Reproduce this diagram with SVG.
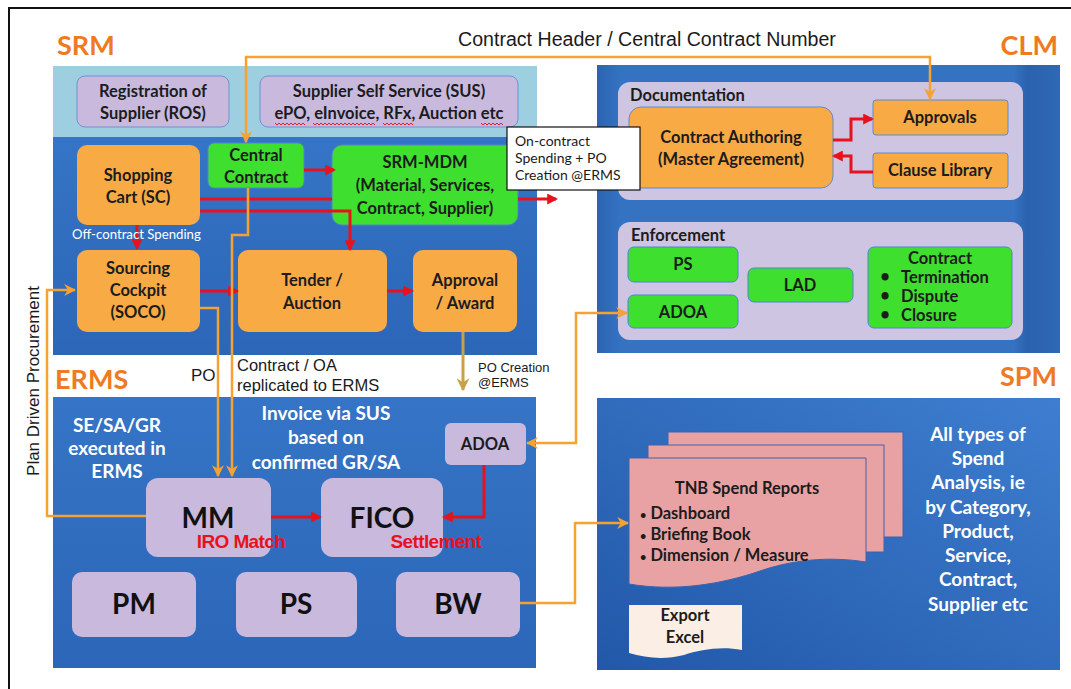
<svg xmlns="http://www.w3.org/2000/svg" width="1071" height="689" viewBox="0 0 1071 689">
  <style>
    .lab { font-family: Lato, "Liberation Sans", sans-serif; font-weight: 700; font-size: 27px; fill: #EE7A22; }
    .bx { font-family: Lato, "Liberation Sans", sans-serif; font-weight: 700; font-size: 16.5px; fill: #1c1c1c; text-anchor: middle; }
    .bl { text-anchor: start; }
    .big { font-family: Lato, "Liberation Sans", sans-serif; font-weight: 700; font-size: 28px; fill: #111; text-anchor: middle; }
    .wht { font-family: Lato, "Liberation Sans", sans-serif; font-weight: 700; font-size: 19px; fill: #ffffff; text-anchor: middle; }
    .arial { font-family: "Liberation Sans", Arial, sans-serif; fill: #1a1a1a; }
    .redtxt { font-family: "Liberation Sans", Arial, sans-serif; font-weight: 700; font-size: 19px; fill: #E8121C; text-anchor: middle; letter-spacing: -0.6px; }
    .org { fill: #F8AA45; }
    .grn { fill: #3EDF2E; stroke: #4C86CF; stroke-width: 1; }
    .lav { fill: #C8B9DD; }
    .pan { fill: #CEC5E2; }
    .red { fill: none; stroke: #E8121C; stroke-width: 3; }
    .ora { fill: none; stroke: #F5A233; stroke-width: 2.5; }
    .gold { fill: none; stroke: #C9A14C; stroke-width: 3; }
    .sheet { fill: #E8A2A4; stroke: #3E62B0; stroke-width: 1; }
    .squig { fill: none; stroke: #E02020; stroke-width: 1; }
  </style>
  <defs>
    <linearGradient id="gBlue" x1="0" y1="0" x2="0" y2="1">
      <stop offset="0" stop-color="#3574C6"/>
      <stop offset="1" stop-color="#2C66B8"/>
    </linearGradient>
    <linearGradient id="gClm" x1="0" y1="0" x2="1" y2="0">
      <stop offset="0" stop-color="#2B64B0"/>
      <stop offset="0.05" stop-color="#3572C2"/>
      <stop offset="0.9" stop-color="#3572C2"/>
      <stop offset="0.93" stop-color="#2A62AE"/>
      <stop offset="1" stop-color="#2F68B4"/>
    </linearGradient>
    <linearGradient id="gSpm" x1="1" y1="0" x2="0" y2="1">
      <stop offset="0" stop-color="#3E7ED0"/>
      <stop offset="1" stop-color="#2258A8"/>
    </linearGradient>
    <marker id="aRed" viewBox="0 0 10 10" refX="8" refY="5" markerWidth="11" markerHeight="11" markerUnits="userSpaceOnUse" orient="auto">
      <path d="M0,0 L10,5 L0,10 z" fill="#E8121C"/>
    </marker>
    <marker id="aOra" viewBox="0 0 10 10" refX="9" refY="5" markerWidth="12" markerHeight="12" markerUnits="userSpaceOnUse" orient="auto-start-reverse">
      <path d="M0,0 L10,5 L0,10 L3,5 z" fill="#F5A233"/>
    </marker>
    <marker id="aGold" viewBox="0 0 10 10" refX="9" refY="5" markerWidth="13" markerHeight="13" markerUnits="userSpaceOnUse" orient="auto">
      <path d="M0,0 L10,5 L0,10 L3,5 z" fill="#C9A14C"/>
    </marker>
  </defs>

  <rect x="0" y="0" width="1071" height="689" fill="#ffffff"/>
  <!-- frame -->
  <path d="M9,689 L9,8 L1071,8" fill="none" stroke="#111" stroke-width="2"/>

  <!-- SRM area -->
  <g id="srm">
    <text class="lab" x="57" y="55">SRM</text>
    <rect x="53" y="66" width="484" height="72" fill="#9DCFE0"/>
    <rect x="53" y="137" width="484" height="218" fill="url(#gBlue)"/>
  </g>
  <g id="ros">
    <rect x="77" y="76" width="152" height="51" rx="8" class="lav" stroke="#6F92D2" stroke-width="1"/>
    <text class="bx" x="153" y="97">Registration of</text>
    <text class="bx" x="153" y="119">Supplier (ROS)</text>
  </g>
  <g id="sus">
    <rect x="260" y="76" width="258" height="51" rx="8" class="lav" stroke="#6F92D2" stroke-width="1"/>
    <text class="bx" x="389" y="97">Supplier Self Service (SUS)</text>
    <text class="bx" x="389" y="119">ePO, eInvoice, RFx, Auction etc</text>
    <!-- spell-check squiggles -->
    <path class="squig" d="M275,123 l2,2 l2,-2 l2,2 l2,-2 l2,2 l2,-2 l2,2 l2,-2 l2,2 l2,-2 l2,2 l2,-2 l2,2 l2,-2 l2,2"/>
    <path class="squig" d="M313,123 l2,2 l2,-2 l2,2 l2,-2 l2,2 l2,-2 l2,2 l2,-2 l2,2 l2,-2 l2,2 l2,-2 l2,2 l2,-2 l2,2 l2,-2 l2,2 l2,-2 l2,2 l2,-2 l2,2 l2,-2 l2,2 l2,-2 l2,2 l2,-2 l2,2 l2,-2 l2,2 l2,-2 l2,2"/>
    <path class="squig" d="M383,123 l2,2 l2,-2 l2,2 l2,-2 l2,2 l2,-2 l2,2 l2,-2 l2,2 l2,-2 l2,2 l2,-2 l2,2 l2,-2 l2,2"/>
    <path class="squig" d="M481,123 l2,2 l2,-2 l2,2 l2,-2 l2,2 l2,-2 l2,2 l2,-2 l2,2 l2,-2 l2,2"/>
  </g>
  <g id="shopping-cart">
    <rect x="77" y="145" width="123" height="80" rx="10" class="org"/>
    <text class="bx" x="138" y="181">Shopping</text>
    <text class="bx" x="138" y="203">Cart (SC)</text>
  </g>
  <g id="central-contract">
    <rect x="208" y="143" width="96" height="45" rx="6" class="grn"/>
    <text class="bx" x="256" y="161">Central</text>
    <text class="bx" x="256" y="183">Contract</text>
  </g>
  <g id="srm-mdm">
    <rect x="332" y="145" width="186" height="80" rx="10" class="grn" stroke="none"/>
    <text class="bx" x="425" y="168">SRM-MDM</text>
    <text class="bx" x="425" y="191">(Material, Services,</text>
    <text class="bx" x="425" y="214">Contract, Supplier)</text>
  </g>
  <g id="sourcing-cockpit">
    <rect x="77" y="250" width="123" height="82" rx="10" class="org"/>
    <text class="bx" x="138" y="274">Sourcing</text>
    <text class="bx" x="138" y="296">Cockpit</text>
    <text class="bx" x="138" y="318">(SOCO)</text>
  </g>
  <g id="tender">
    <rect x="238" y="250" width="149" height="82" rx="10" class="org"/>
    <text class="bx" x="312" y="286">Tender /</text>
    <text class="bx" x="312" y="309">Auction</text>
  </g>
  <g id="approval">
    <rect x="413" y="250" width="104" height="82" rx="10" class="org"/>
    <text class="bx" x="465" y="286">Approval</text>
    <text class="bx" x="465" y="309">/ Award</text>
  </g>

  <!-- CLM area -->
  <g id="clm">
    <text class="lab" x="1058" y="55" text-anchor="end">CLM</text>
    <rect x="597" y="65" width="463" height="288" fill="url(#gClm)"/>
    <rect x="618" y="82" width="405" height="118" rx="12" class="pan"/>
    <text class="bx bl" x="630" y="101" font-size="15.5">Documentation</text>
    <rect x="618" y="222" width="405" height="118" rx="12" class="pan"/>
    <text class="bx bl" x="631" y="241" font-size="15.5">Enforcement</text>
  </g>
  <g id="contract-authoring">
    <rect x="629" y="107" width="204" height="81" rx="12" class="org" stroke="#5B8BD0" stroke-width="1"/>
    <text class="bx" x="731" y="143" font-size="17">Contract Authoring</text>
    <text class="bx" x="731" y="165" font-size="17">(Master Agreement)</text>
  </g>
  <g id="approvals">
    <rect x="873" y="100" width="135" height="35" rx="3" class="org" stroke="#5B8BD0" stroke-width="1"/>
    <text class="bx" x="940" y="123">Approvals</text>
  </g>
  <g id="clause-library">
    <rect x="873" y="153" width="135" height="35" rx="3" class="org" stroke="#5B8BD0" stroke-width="1"/>
    <text class="bx" x="940" y="176">Clause Library</text>
  </g>
  <g id="clm-ps">
    <rect x="628" y="247" width="110" height="35" rx="6" class="grn"/>
    <text class="bx" x="683" y="270">PS</text>
  </g>
  <g id="clm-adoa">
    <rect x="628" y="295" width="110" height="33" rx="6" class="grn"/>
    <text class="bx" x="683" y="318">ADOA</text>
  </g>
  <g id="lad">
    <rect x="748" y="268" width="105" height="34" rx="6" class="grn"/>
    <text class="bx" x="800" y="291">LAD</text>
  </g>
  <g id="contract-status">
    <rect x="868" y="247" width="144" height="81" rx="6" class="grn"/>
    <text class="bx" x="940" y="264">Contract</text>
    <text class="bx" x="885" y="282" font-size="12">•</text>
    <text class="bx bl" x="901" y="283">Termination</text>
    <text class="bx" x="885" y="301" font-size="12">•</text>
    <text class="bx bl" x="901" y="302">Dispute</text>
    <text class="bx" x="885" y="320" font-size="12">•</text>
    <text class="bx bl" x="901" y="321">Closure</text>
  </g>

  <g id="on-contract">
    <rect x="507" y="127" width="133" height="63" fill="#ffffff" stroke="#111" stroke-width="1.2"/>
    <text x="515" y="146" font-family="Lato, 'Liberation Sans', sans-serif" font-size="14" fill="#1a1a1a">On-contract</text>
    <text x="515" y="163" font-family="Lato, 'Liberation Sans', sans-serif" font-size="14" fill="#1a1a1a">Spending + PO</text>
    <text x="515" y="180" font-family="Lato, 'Liberation Sans', sans-serif" font-size="14" fill="#1a1a1a">Creation @ERMS</text>
  </g>

  <!-- ERMS area -->
  <g id="erms">
    <text class="lab" x="55" y="389">ERMS</text>
    <rect x="53" y="397" width="483" height="271" fill="url(#gBlue)"/>
    <text class="wht" x="117" y="432">SE/SA/GR</text>
    <text class="wht" x="117" y="455">executed in</text>
    <text class="wht" x="117" y="478">ERMS</text>
    <text class="wht" x="326" y="420">Invoice via SUS</text>
    <text class="wht" x="326" y="444">based on</text>
    <text class="wht" x="326" y="469">confirmed GR/SA</text>
  </g>
  <g id="erms-adoa">
    <rect x="445" y="423" width="81" height="42" rx="6" class="lav"/>
    <text class="bx" x="485" y="450" font-size="15">ADOA</text>
  </g>
  <g id="mm">
    <rect x="146" y="478" width="125" height="79" rx="12" class="lav"/>
    <text class="big" x="208" y="528" font-size="30">MM</text>
    <text class="redtxt" x="241" y="548">IRO Match</text>
  </g>
  <g id="fico">
    <rect x="321" y="478" width="122" height="79" rx="12" class="lav"/>
    <text class="big" x="382" y="528" font-size="30">FICO</text>
    <text class="redtxt" x="436" y="548">Settlement</text>
  </g>
  <g id="pm">
    <rect x="72" y="572" width="124" height="65" rx="10" class="lav"/>
    <text class="big" x="134" y="614">PM</text>
  </g>
  <g id="ps">
    <rect x="236" y="572" width="121" height="65" rx="10" class="lav"/>
    <text class="big" x="296" y="614">PS</text>
  </g>
  <g id="bw">
    <rect x="396" y="572" width="124" height="65" rx="10" class="lav"/>
    <text class="big" x="458" y="614">BW</text>
  </g>

  <!-- SPM area -->
  <g id="spm">
    <text class="lab" x="1057" y="386" text-anchor="end">SPM</text>
    <rect x="597" y="398" width="463" height="272" fill="url(#gSpm)"/>
    <text class="wht" x="978" y="441">All types of</text>
    <text class="wht" x="978" y="465">Spend</text>
    <text class="wht" x="978" y="489">Analysis, ie</text>
    <text class="wht" x="978" y="514">by Category,</text>
    <text class="wht" x="978" y="538">Product,</text>
    <text class="wht" x="978" y="562">Service,</text>
    <text class="wht" x="978" y="586">Contract,</text>
    <text class="wht" x="978" y="611">Supplier etc</text>
  </g>
  <g id="spend-reports">
    <rect x="668" y="432" width="235" height="105" class="sheet"/>
    <rect x="648" y="445" width="236" height="107" class="sheet"/>
    <path class="sheet" d="M629,458 L866,458 L866,562 C828,556 792,560 760,571 C722,584 676,592 629,584 Z"/>
    <text class="bx" x="747" y="494" font-size="16">TNB Spend Reports</text>
    <text class="bx bl" x="640" y="519" font-weight="400" font-size="15"><tspan font-size="11">•</tspan> Dashboard</text>
    <text class="bx bl" x="640" y="540" font-weight="400" font-size="15"><tspan font-size="11">•</tspan> Briefing Book</text>
    <text class="bx bl" x="640" y="561" font-weight="400" font-size="15"><tspan font-size="11">•</tspan> Dimension / Measure</text>
  </g>
  <g id="export-excel">
    <path d="M629,605 L742,605 L742,650 C720,646 700,650 684,655 C664,660 646,658 629,653 Z" fill="#FBEEE4"/>
    <text class="bx" x="685" y="621" font-size="15.5">Export</text>
    <text class="bx" x="685" y="643" font-size="15.5">Excel</text>
  </g>

  <!-- connectors -->
  <g id="connectors">
    <path class="red" d="M304,170 L334,170" marker-end="url(#aRed)"/>
    <path class="red" d="M200,199 L332,199"/>
    <path class="red" d="M200,211 L350,211 L350,249" marker-end="url(#aRed)"/>
    <path class="red" d="M518,199 L556,199" marker-end="url(#aRed)"/>
    <path class="red" d="M137,225 L137,248" stroke-width="2.5" marker-end="url(#aRed)"/>
    <path class="red" d="M200,291 L237,291" marker-end="url(#aRed)"/>
    <path class="red" d="M387,291 L412,291" marker-end="url(#aRed)"/>
    <path class="red" d="M833,140 L851,140 L851,119 L872,119" marker-end="url(#aRed)"/>
    <path class="red" d="M873,172 L851,172 L851,156 L834,156" marker-end="url(#aRed)"/>
    <path class="red" d="M271,517 L320,517" marker-end="url(#aRed)"/>
    <path class="red" d="M484,465 L484,517 L444,517" marker-end="url(#aRed)"/>

    <path class="ora" d="M246,142 L246,57 L930,57 L930,99" marker-start="url(#aOra)" marker-end="url(#aOra)"/>
    <path class="ora" d="M200,308 L218,308 L218,476" marker-end="url(#aOra)"/>
    <path class="ora" d="M248,188 L248,235 L232,235 L232,476" marker-end="url(#aOra)"/>
    <path class="ora" d="M146,516 L47,516 L47,290 L75,290" stroke-width="2" marker-end="url(#aOra)"/>
    <path class="ora" d="M527,443 L576,443 L576,313 L627,313" marker-start="url(#aOra)" marker-end="url(#aOra)"/>
    <path class="ora" d="M520,603 L575,603 L575,523 L628,523" marker-end="url(#aOra)"/>
    <path class="gold" d="M463,332 L463,390" marker-end="url(#aGold)"/>

    <text class="arial" x="458" y="46" font-size="19.6">Contract Header / Central Contract Number</text>
    <text x="72" y="239" font-family="Lato, 'Liberation Sans', sans-serif" font-size="13.2" fill="#ffffff">Off-contract Spending</text>
    <text class="arial" x="191" y="381" font-size="17">PO</text>
    <text class="arial" x="237" y="371" font-size="16.5">Contract / OA</text>
    <text class="arial" x="237" y="391" font-size="16.5">replicated to ERMS</text>
    <text class="arial" x="478" y="372" font-size="13">PO Creation</text>
    <text class="arial" x="478" y="387" font-size="13">@ERMS</text>
    <text class="arial" x="0" y="0" font-size="17" text-anchor="middle" transform="translate(39,381) rotate(-90)">Plan Driven Procurement</text>
  </g>
</svg>
